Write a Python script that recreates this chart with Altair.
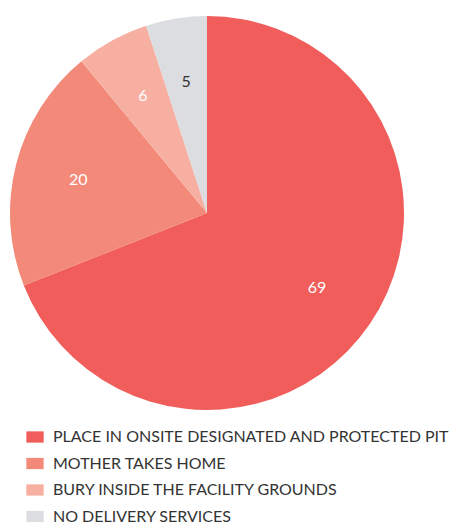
import altair as alt
import pandas as pd

categories = [
    "PLACE IN ONSITE DESIGNATED AND PROTECTED PIT",
    "MOTHER TAKES HOME",
    "BURY INSIDE THE FACILITY GROUNDS",
    "NO DELIVERY SERVICES",
]
values = [69, 20, 6, 5]
colors = ["#F05D5A", "#F38A79", "#F7AFA1", "#DCDDE0"]
label_colors = ["#FFFFFF", "#FFFFFF", "#FFFFFF", "#333333"]

df = pd.DataFrame({
    "category": categories,
    "value": values,
    "order": list(range(len(categories))),
    "lc": label_colors,
})

base = alt.Chart(df).encode(
    theta=alt.Theta("value:Q", stack=True),
    order=alt.Order("order:Q"),
)

pie = base.mark_arc(outerRadius=197).encode(
    color=alt.Color(
        "category:N",
        scale=alt.Scale(domain=categories, range=colors),
        sort=categories,
        legend=alt.Legend(
            title=None,
            orient="none",
            legendX=16,
            legendY=412,
            direction="vertical",
            symbolType="M-1,-0.65H1V0.65H-1Z",
            symbolSize=300,
            symbolStrokeWidth=0,
            symbolOpacity=1,
            labelFont="Lato",
            labelFontSize=16,
            labelColor="#333333",
            labelLimit=600,
            rowPadding=9.5,
            labelOffset=9,
        ),
    )
)

text = base.mark_text(radius=133, font="Lato", fontSize=16).encode(
    text="value:Q",
    color=alt.Color("lc:N", scale=None),
)

chart = (
    (pie + text)
    .properties(
        width=394,
        height=394,
        padding={"left": 2, "top": 8, "right": 0, "bottom": 0},
    )
    .configure_view(stroke=None)
)

chart.save("out.html", embed_options={"renderer": "svg", "actions": False})
